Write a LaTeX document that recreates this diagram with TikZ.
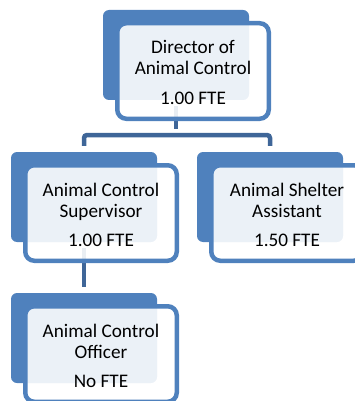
\documentclass[tikz,border=0pt]{standalone}
\usepackage{fontspec}
\setmainfont{Carlito}
\definecolor{accent}{HTML}{4F81BD}
\definecolor{linkblue}{HTML}{3F6698}
\tikzset{
  backbox/.style={fill=accent, draw=none, rounded corners=6pt,
    minimum width=146pt, minimum height=90pt, inner sep=0pt},
  frontbox/.style={draw=accent, line width=4.5pt, fill=white, fill opacity=0.89,
    rounded corners=9pt, minimum width=151.5pt, minimum height=95.5pt, inner sep=0pt},
  label/.style={anchor=base, inner sep=0pt, font=\fontsize{19.2}{20}\selectfont, text=black},
  link/.style={draw=linkblue, line width=4.5pt, shorten <=6pt, shorten >=6pt},
}
\begin{document}
\begin{tikzpicture}[x=1pt, y=-1pt]
\useasboundingbox (0,0) rectangle (355,401);
\clip (0,0) rectangle (355,401);

% solid back panels
\node[backbox] (dir)  at (176,55)  {};
\node[backbox] (sup)  at (84,197)  {};
\node[backbox] (shel) at (270,197) {};
\node[backbox] (off)  at (84,338)  {};

\coordinate (bus) at (176,135);

% connectors, kept beneath the framed panels
\draw[link] (dir.south) -- (dir.south |- bus);
\draw[link, rounded corners=3pt] (sup.north) |- (bus) -| (shel.north);
\draw[link] (sup.south) -- (off.north);

% framed front panels, slightly translucent
\node[frontbox] (dirF)  at (193,71)  {};
\node[frontbox] (supF)  at (101,213) {};
\node[frontbox] (shelF) at (287,213) {};
\node[frontbox] (offF)  at (101,354) {};

% labels
\node[label] (dirT1) at (193,54)  {Director of};
\node[label] (dirT2) at (193,75)  {Animal Control};
\node[label] (dirT3) at (193,104) {1.00 FTE};

\node[label] (supT1) at (101,196) {Animal Control};
\node[label] (supT2) at (101,217) {Supervisor};
\node[label] (supT3) at (101,246) {1.00 FTE};

\node[label] (shelT1) at (287,196) {Animal Shelter};
\node[label] (shelT2) at (287,217) {Assistant};
\node[label] (shelT3) at (287,246) {1.50 FTE};

\node[label] (offT1) at (101,337) {Animal Control};
\node[label] (offT2) at (101,358) {Officer};
\node[label] (offT3) at (101,387) {No FTE};
\end{tikzpicture}
\end{document}
